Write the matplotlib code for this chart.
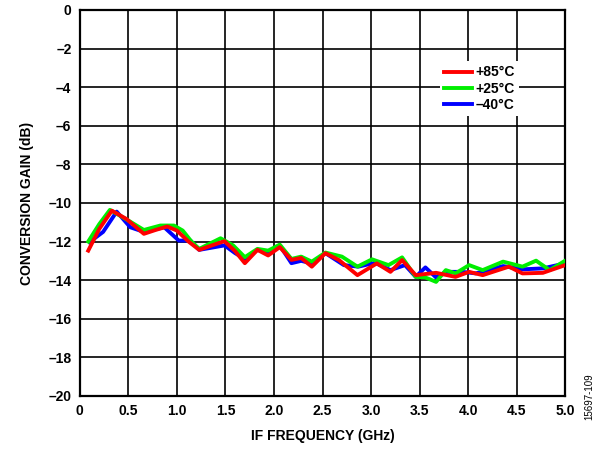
import matplotlib
matplotlib.use("Agg")
import matplotlib.pyplot as plt

plt.rcParams['font.family'] = ['Liberation Sans', 'DejaVu Sans']

freq_red = [0.087, 0.2, 0.33, 0.48, 0.66, 0.78, 0.90, 1.0, 1.12, 1.23, 1.36, 1.49, 1.60, 1.70, 1.83, 1.94, 2.06, 2.18, 2.28,
            2.39, 2.53, 2.67, 2.86, 3.06, 3.20, 3.32, 3.46, 3.67, 3.87, 4.01, 4.15, 4.42, 4.56, 4.77, 5.0]
gain_red = [-12.47, -11.35, -10.4, -10.83, -11.6, -11.4, -11.22, -11.43, -12.0, -12.43, -12.2, -11.98, -12.5, -13.12, -12.43, -12.72, -12.29, -12.95, -12.85,
            -13.3, -12.6, -12.96, -13.74, -13.13, -13.57, -12.96, -13.74, -13.62, -13.83, -13.57, -13.74, -13.3, -13.65, -13.62, -13.22]

freq_green = [0.087, 0.2, 0.31, 0.48, 0.66, 0.83, 0.97, 1.06, 1.15, 1.23, 1.45, 1.58, 1.70, 1.83, 1.94, 2.06, 2.18, 2.28,
              2.39, 2.53, 2.70, 2.86, 3.01, 3.18, 3.32, 3.46, 3.56, 3.67, 3.77, 3.87, 4.01, 4.15, 4.36, 4.56, 4.70, 4.84, 5.0]
gain_green = [-12.0, -11.1, -10.36, -10.85, -11.4, -11.17, -11.17, -11.43, -12.0, -12.38, -11.83, -12.2, -12.81, -12.38, -12.47, -12.16, -12.9, -12.78,
              -13.04, -12.57, -12.78, -13.3, -12.92, -13.22, -12.82, -13.83, -13.86, -14.09, -13.48, -13.65, -13.22, -13.48, -13.04, -13.3, -12.99, -13.48, -12.99]

freq_blue = [0.10, 0.24, 0.38, 0.52, 0.66, 0.87, 1.02, 1.14, 1.23, 1.49, 1.60, 1.70, 1.83, 1.94, 2.06, 2.18, 2.28,
             2.39, 2.53, 2.72, 2.87, 3.04, 3.20, 3.35, 3.46, 3.56, 3.67, 3.77, 3.94, 4.08, 4.36, 4.56, 4.77, 5.0]
gain_blue = [-12.03, -11.5, -10.45, -11.26, -11.5, -11.26, -11.95, -11.95, -12.43, -12.2, -12.6, -12.9, -12.43, -12.6, -12.2, -13.12, -13.0,
             -13.13, -12.6, -13.22, -13.3, -13.1, -13.48, -13.22, -13.83, -13.34, -13.86, -13.57, -13.57, -13.65, -13.27, -13.44, -13.39, -13.13]

labels = ['+85°C', '+25°C', '\u201340°C']
x_ticks = [0, 0.5, 1.0, 1.5, 2.0, 2.5, 3.0, 3.5, 4.0, 4.5, 5.0]
x_ticklabels = ['0', '0.5', '1.0', '1.5', '2.0', '2.5', '3.0', '3.5', '4.0', '4.5', '5.0']
y_ticks = list(range(-20, 1, 2))
y_ticklabels = [('\u2013' + str(-v)) if v < 0 else '0' for v in y_ticks]

fig = plt.figure(figsize=(6.0, 4.51), dpi=100)
ax = fig.add_axes([0.133, 0.122, 0.809, 0.856])

lb, = ax.plot(freq_blue, gain_blue, color='#0000ff', lw=2.8, zorder=3, solid_joinstyle='round')
lg, = ax.plot(freq_green, gain_green, color='#00ee00', lw=2.8, zorder=4, solid_joinstyle='round')
lr, = ax.plot(freq_red, gain_red, color='#ff0000', lw=2.8, zorder=5, solid_joinstyle='round')

ax.set_xlim(0, 5.0)
ax.set_ylim(-20, 0)
ax.set_xticks(x_ticks)
ax.set_xticklabels(x_ticklabels, fontsize=10, fontweight='bold')
ax.set_yticks(y_ticks)
ax.set_yticklabels(y_ticklabels, fontsize=10, fontweight='bold')
ax.tick_params(length=0, pad=6)
ax.grid(True, color='black', lw=1.2, zorder=1)
ax.set_axisbelow(True)
for s in ax.spines.values():
    s.set_linewidth(1.6)

ax.set_xlabel('IF FREQUENCY (GHz)', fontsize=10, fontweight='bold', labelpad=8)
ax.set_ylabel('CONVERSION GAIN (dB)', fontsize=10, fontweight='bold', labelpad=10)

leg = ax.legend([lr, lg, lb], labels, loc='upper left', bbox_to_anchor=(0.727, 0.885),
                frameon=True, fancybox=False, framealpha=1, edgecolor='white',
                prop={'weight': 'bold', 'size': 10}, handlelength=2.0, handletextpad=0.3,
                labelspacing=0.15, borderpad=0.3)
leg.get_frame().set_linewidth(0)

fig.text(0.983, 0.12, '15697-109', rotation=90, fontsize=7, ha='center', va='center')

fig.savefig('out.png', dpi=100)
